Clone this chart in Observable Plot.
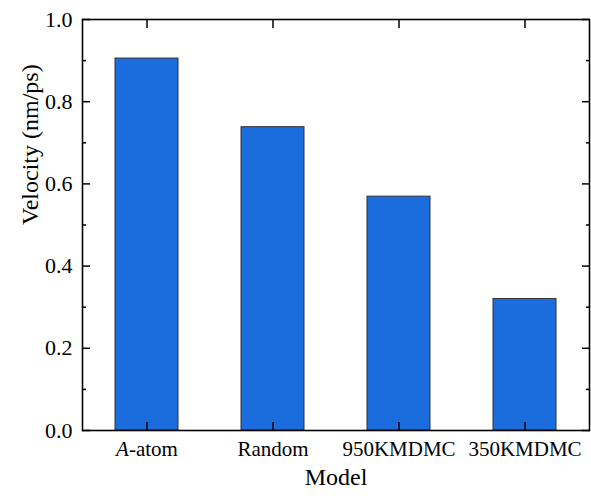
<!DOCTYPE html>
<html>
<head>
<meta charset="utf-8">
<script src="https://cdn.jsdelivr.net/npm/d3@7"></script>
<script src="https://cdn.jsdelivr.net/npm/@observablehq/plot@0.6"></script>
<style>
  html, body { margin: 0; padding: 0; background: #fff; }
</style>
</head>
<body>
<div id="chart"></div>
<script>
const models = ["A-atom", "Random", "950KMDMC", "350KMDMC"];
const velocity = [0.905, 0.738, 0.569, 0.320];
const yMajorTicks = [0, 0.2, 0.4, 0.6, 0.8, 1.0];
const yMinorTicks = [0.1, 0.3, 0.5, 0.7, 0.9];
const xLabel = "Model";
const yLabel = "Velocity (nm/ps)";

const data = models.map((m, i) => ({model: m, v: velocity[i]}));

const plot = Plot.plot({
  width: 591,
  height: 496,
  marginLeft: 82,
  marginTop: 19,
  marginRight: 2,
  marginBottom: 66,
  style: {fontFamily: "'Liberation Serif', 'Times New Roman', serif", color: "#000", background: "#fff"},
  x: {domain: models, paddingInner: 0.5, paddingOuter: 0.25, label: null},
  y: {domain: [0, 1], label: null},
  marks: [
    Plot.barY(data, {x: "model", y: "v", fill: "#1b6ddd", stroke: "#333", strokeWidth: 1}),
    Plot.frame({stroke: "#000", strokeWidth: 1.6}),
    // y tick labels
    Plot.axisY({ticks: yMajorTicks, tickSize: 0, tickPadding: 10, tickFormat: d3.format(".1f"), fontSize: 22, label: null}),
    // inward ticks left/right
    Plot.axisY({anchor: "left", ticks: yMajorTicks, tickSize: -8, fill: "none", label: null, strokeWidth: 1.5}),
    Plot.axisY({anchor: "left", ticks: yMinorTicks, tickSize: -4, fill: "none", label: null, strokeWidth: 1.5}),
    Plot.axisY({anchor: "right", ticks: yMajorTicks, tickSize: -8, fill: "none", label: null, strokeWidth: 1.5}),
    Plot.axisY({anchor: "right", ticks: yMinorTicks, tickSize: -4, fill: "none", label: null, strokeWidth: 1.5}),
    // x tick labels
    Plot.axisX({tickSize: 0, tickPadding: 11, fontSize: 21, label: null}),
    Plot.axisX({anchor: "bottom", tickSize: -8, fill: "none", label: null, strokeWidth: 1.5}),
    Plot.axisX({anchor: "top", tickSize: -8, fill: "none", label: null, strokeWidth: 1.5}),
    // axis titles
    Plot.text([yLabel], {frameAnchor: "left", dx: -52, rotate: -90, fontSize: 24, lineAnchor: "middle", fill: "#000"}),
    Plot.text([xLabel], {frameAnchor: "bottom", dy: 47, fontSize: 24, lineAnchor: "middle", fill: "#000"})
  ]
});

// italicize the "A" in "A-atom"
plot.querySelectorAll("text").forEach(t => {
  if (t.textContent === "A-atom") {
    const target = t.querySelector("tspan") || t;
    target.textContent = "";
    const ns = "http://www.w3.org/2000/svg";
    const a = document.createElementNS(ns, "tspan");
    a.setAttribute("font-style", "italic");
    a.textContent = "A";
    const rest = document.createElementNS(ns, "tspan");
    rest.textContent = "-atom";
    target.appendChild(a);
    target.appendChild(rest);
  }
});

document.getElementById("chart").appendChild(plot);
</script>
</body>
</html>
